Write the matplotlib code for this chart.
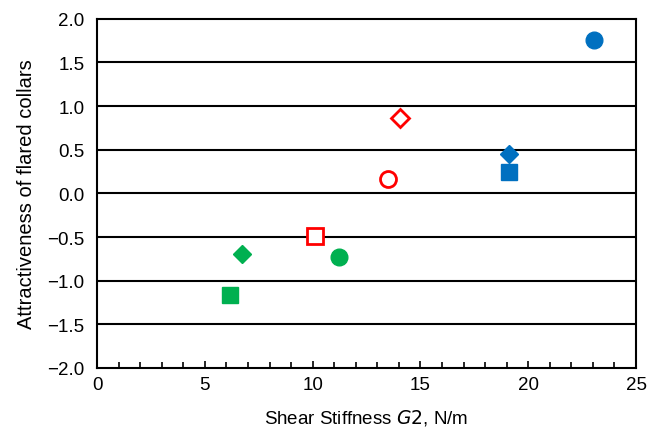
import matplotlib
matplotlib.use('Agg')
import matplotlib.pyplot as plt
from matplotlib.ticker import MultipleLocator

plt.rcParams['font.family'] = ['Liberation Sans', 'DejaVu Sans']

# series: (x, y) for each group
blue_x = [23.05, 19.1, 19.1]
blue_y = [1.76, 0.45, 0.25]
red_x = [13.5, 14.05, 10.1]
red_y = [0.17, 0.865, -0.49]
green_x = [11.2, 6.72, 6.17]
green_y = [-0.73, -0.69, -1.17]
markers = ['o', 'D', 's']

fig = plt.figure(figsize=(6.47, 4.31), dpi=100)
ax = fig.add_axes([0.150, 0.144, 0.833, 0.810])

for y in [-1.5, -1.0, -0.5, 0.0, 0.5, 1.0, 1.5]:
    ax.axhline(y, color='black', lw=1.5, zorder=1)

sizes = {'o': 12, 'D': 9.5, 's': 11.5}
for xs, ys, c in [(blue_x, blue_y, '#0070C0'), (green_x, green_y, '#00B050')]:
    for x, y, m in zip(xs, ys, markers):
        ax.plot(x, y, marker=m, ms=sizes[m], color=c, mec=c, ls='none', zorder=3)
for x, y, m in zip(red_x, red_y, markers):
    ax.plot(x, y, marker=m, ms=sizes[m] - 0.5, mfc='white', mec='#FF0000', mew=2,
            ls='none', zorder=3)

ax.set_xlim(0, 25)
ax.set_ylim(-2.0, 2.0)
ax.xaxis.set_major_locator(MultipleLocator(5))
ax.xaxis.set_minor_locator(MultipleLocator(1))
ax.yaxis.set_major_locator(MultipleLocator(0.5))
ax.set_yticklabels([f'{v:.1f}'.replace('-', '\u2212') for v in ax.get_yticks()])
ax.tick_params(axis='both', which='both', direction='in', labelsize=13.5)
ax.tick_params(axis='x', which='major', length=5, width=1.2, pad=6)
ax.tick_params(axis='x', which='minor', length=4, width=1.2)
ax.tick_params(axis='y', length=0, pad=9)
for s in ax.spines.values():
    s.set_linewidth(1.5)

ax.set_xlabel('Shear Stiffness $\\it{G2}$, N/m', fontsize=13.5, labelpad=10)
ax.set_ylabel('Attractiveness of flared collars', fontsize=14.5, labelpad=8)

fig.savefig('out.png', dpi=100)
